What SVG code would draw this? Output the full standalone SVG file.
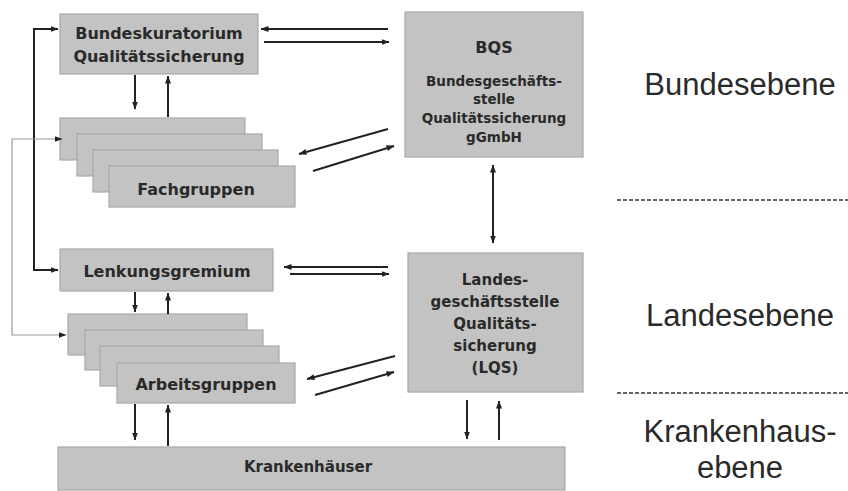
<svg xmlns="http://www.w3.org/2000/svg" width="848" height="491" viewBox="0 0 848 491">
<defs>
<style>
.box{fill:#c3c3c3;stroke:#a9a9a9;stroke-width:1.2}
.t{font-family:"DejaVu Sans",Verdana,sans-serif;font-weight:bold;fill:#2a2a2a;text-anchor:middle}
.lvl{font-family:"Liberation Sans",Arial,sans-serif;fill:#2a2a2a;text-anchor:middle;font-size:31px}
.c{fill:none;stroke:#222;stroke-width:2}
.thin{fill:none;stroke:#9a9a9a;stroke-width:1.2}
.dash{stroke:#333;stroke-width:1.5;stroke-dasharray:4,2}
</style>
<marker id="a" viewBox="0 0 8 6" refX="7.5" refY="3" markerWidth="8" markerHeight="6" markerUnits="userSpaceOnUse" orient="auto-start-reverse"><path d="M0,0 L8,3 L0,6 z" fill="#222"/></marker>
</defs>
<rect width="848" height="491" fill="#fff"/>

<g id="bundeskuratorium">
<rect class="box" x="60" y="14" width="198" height="60"/>
<text class="t" x="159" y="39" font-size="16">Bundeskuratorium</text>
<text class="t" x="159" y="62" font-size="16">Qualitätssicherung</text>
</g>

<g id="fachgruppen">
<rect class="box" x="60" y="118" width="185" height="42"/>
<rect class="box" x="77" y="134" width="185" height="42"/>
<rect class="box" x="93" y="150" width="185" height="42"/>
<rect class="box" x="109" y="166" width="186" height="41"/>
<text class="t" x="196" y="195" font-size="16">Fachgruppen</text>
</g>

<g id="bqs">
<rect class="box" x="405" y="12" width="178" height="145"/>
<text class="t" x="494" y="53" font-size="16">BQS</text>
<text class="t" x="494" y="86" font-size="13.5">Bundesgeschäfts-</text>
<text class="t" x="494" y="104" font-size="13.5">stelle</text>
<text class="t" x="494" y="123" font-size="13.5">Qualitätssicherung</text>
<text class="t" x="494" y="142" font-size="13.5">gGmbH</text>
</g>

<g id="lenkungsgremium">
<rect class="box" x="60" y="249" width="213" height="42"/>
<text class="t" x="167" y="277" font-size="16">Lenkungsgremium</text>
</g>

<g id="arbeitsgruppen">
<rect class="box" x="68" y="314" width="179" height="41"/>
<rect class="box" x="85" y="330" width="178" height="40"/>
<rect class="box" x="100" y="346" width="179" height="40"/>
<rect class="box" x="117" y="363" width="178" height="40"/>
<text class="t" x="206" y="390" font-size="16">Arbeitsgruppen</text>
</g>

<g id="lqs">
<rect class="box" x="408" y="253" width="175" height="139"/>
<text class="t" x="495" y="285" font-size="15">Landes-</text>
<text class="t" x="495" y="307" font-size="15">geschäftsstelle</text>
<text class="t" x="495" y="329" font-size="15">Qualitäts-</text>
<text class="t" x="495" y="351" font-size="15">sicherung</text>
<text class="t" x="495" y="373" font-size="15">(LQS)</text>
</g>

<g id="krankenhaeuser">
<rect class="box" x="58" y="447" width="507" height="43"/>
<text class="t" x="308" y="472" font-size="15">Krankenhäuser</text>
</g>

<g id="levels">
<text class="lvl" x="740" y="95">Bundesebene</text>
<line class="dash" x1="617" y1="200" x2="848" y2="200"/>
<text class="lvl" x="740" y="326">Landesebene</text>
<line class="dash" x1="617" y1="393" x2="848" y2="393"/>
<text class="lvl" x="740" y="442">Krankenhaus-</text>
<text class="lvl" x="740" y="478">ebene</text>
</g>

<g id="connectors">
<path class="c" d="M58,29 H34 V270 H58" marker-start="url(#a)" marker-end="url(#a)"/>
<path class="thin" d="M62,139 H12 V335 H66" marker-start="url(#a)" marker-end="url(#a)"/>
<line class="c" x1="135" y1="75" x2="135" y2="109" marker-end="url(#a)"/>
<line class="c" x1="168" y1="117" x2="168" y2="76" marker-end="url(#a)"/>
<line class="c" x1="135" y1="292" x2="135" y2="312" marker-end="url(#a)"/>
<line class="c" x1="168" y1="314" x2="168" y2="293" marker-end="url(#a)"/>
<line class="c" x1="135" y1="404" x2="135" y2="440" marker-end="url(#a)"/>
<line class="c" x1="168" y1="446" x2="168" y2="405" marker-end="url(#a)"/>
<line class="c" x1="388" y1="29" x2="261" y2="29" marker-end="url(#a)"/>
<line class="c" x1="264" y1="42" x2="389" y2="42" marker-end="url(#a)"/>
<line class="c" x1="388" y1="129" x2="299" y2="154" marker-end="url(#a)"/>
<line class="c" x1="313" y1="171" x2="394" y2="146" marker-end="url(#a)"/>
<line class="c" x1="388" y1="267" x2="284" y2="267" marker-end="url(#a)"/>
<line class="c" x1="290" y1="274" x2="389" y2="274" marker-end="url(#a)"/>
<line class="c" x1="395" y1="356" x2="307" y2="379" marker-end="url(#a)"/>
<line class="c" x1="315" y1="395" x2="394" y2="372" marker-end="url(#a)"/>
<line class="c" x1="493" y1="165" x2="493" y2="243" stroke="#555" marker-start="url(#a)" marker-end="url(#a)"/>
<line class="c" x1="467" y1="400" x2="467" y2="439" marker-end="url(#a)"/>
<line class="c" x1="499" y1="440" x2="499" y2="401" marker-end="url(#a)"/>
</g>
</svg>
